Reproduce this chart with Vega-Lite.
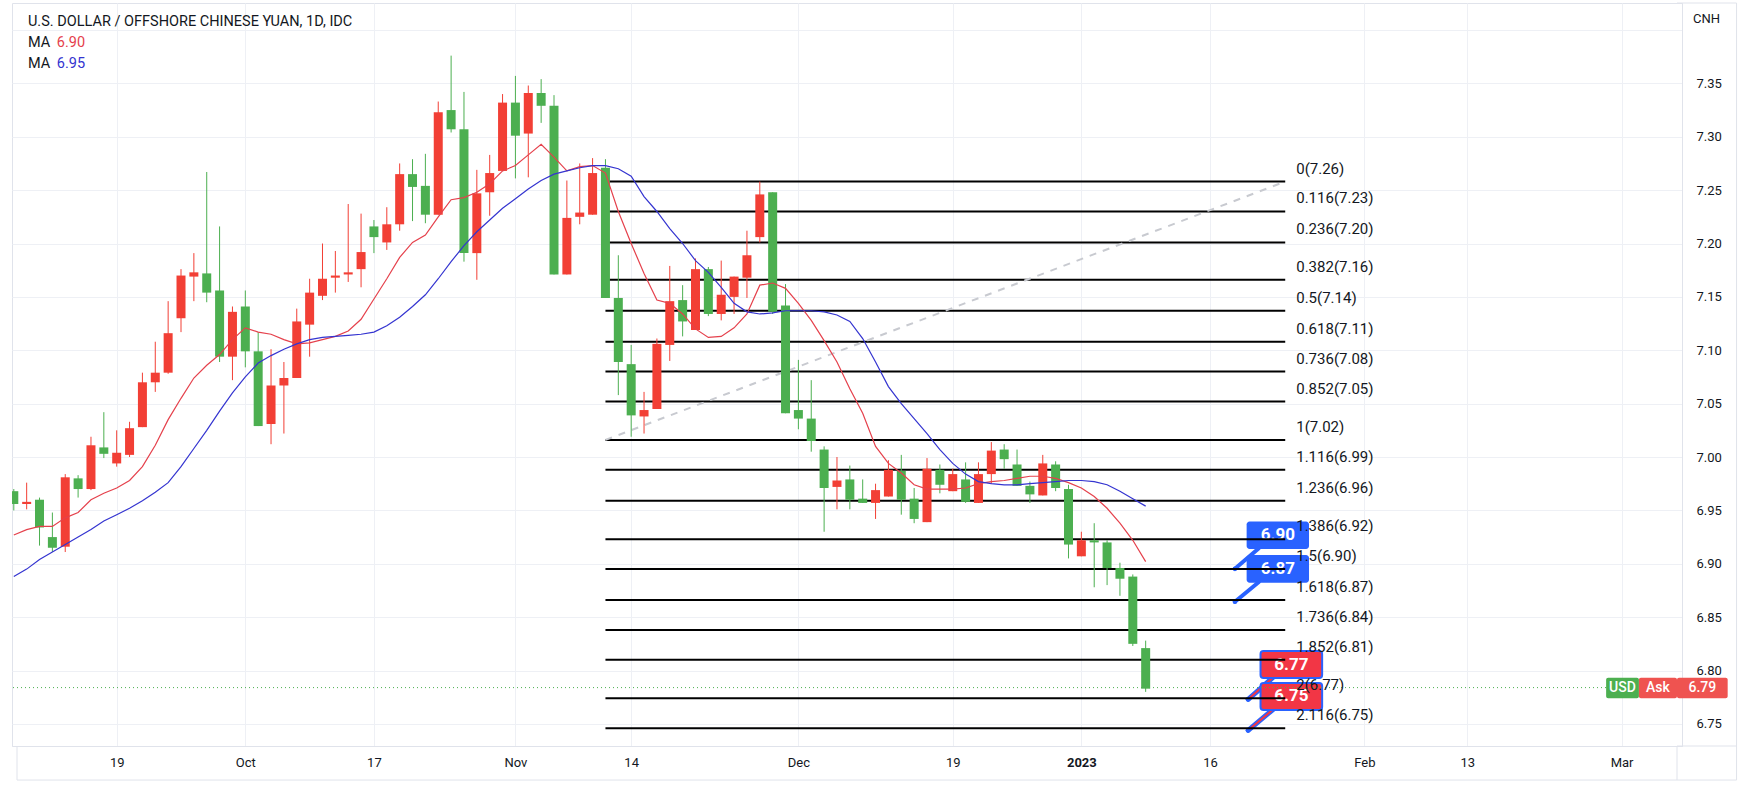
{
  "$schema": "https://vega.github.io/schema/vega-lite/v6.json",
  "width": 1670,
  "height": 743,
  "autosize": {"type": "none"},
  "padding": {"left": 12, "top": 3, "right": 76, "bottom": 40},
  "background": "#ffffff",
  "config": {
    "font": "Roboto",
    "view": {"stroke": "#e0e3eb", "strokeWidth": 1}
  },
  "datasets": {
    "candles": [
      {"i":-8,"o":6.968,"h":6.970,"l":6.950,"c":6.956},
      {"i":-7,"o":6.956,"h":6.976,"l":6.951,"c":6.958},
      {"i":-6,"o":6.960,"h":6.962,"l":6.917,"c":6.934},
      {"i":-5,"o":6.925,"h":6.948,"l":6.911,"c":6.915},
      {"i":-4,"o":6.916,"h":6.984,"l":6.911,"c":6.981},
      {"i":-3,"o":6.980,"h":6.983,"l":6.962,"c":6.970},
      {"i":-2,"o":6.970,"h":7.019,"l":6.969,"c":7.011},
      {"i":-1,"o":7.009,"h":7.042,"l":6.999,"c":7.003},
      {"i":0,"o":6.994,"h":7.025,"l":6.991,"c":7.004},
      {"i":1,"o":7.002,"h":7.033,"l":7.000,"c":7.027},
      {"i":2,"o":7.028,"h":7.079,"l":7.028,"c":7.070},
      {"i":3,"o":7.070,"h":7.108,"l":7.061,"c":7.079},
      {"i":4,"o":7.079,"h":7.146,"l":7.078,"c":7.116},
      {"i":5,"o":7.130,"h":7.176,"l":7.117,"c":7.170},
      {"i":6,"o":7.169,"h":7.191,"l":7.146,"c":7.173},
      {"i":7,"o":7.172,"h":7.267,"l":7.145,"c":7.154},
      {"i":8,"o":7.156,"h":7.216,"l":7.089,"c":7.094},
      {"i":9,"o":7.094,"h":7.141,"l":7.072,"c":7.136},
      {"i":10,"o":7.141,"h":7.156,"l":7.084,"c":7.099},
      {"i":11,"o":7.099,"h":7.117,"l":7.029,"c":7.029},
      {"i":12,"o":7.031,"h":7.101,"l":7.012,"c":7.067},
      {"i":13,"o":7.067,"h":7.089,"l":7.022,"c":7.074},
      {"i":14,"o":7.074,"h":7.139,"l":7.074,"c":7.127},
      {"i":15,"o":7.124,"h":7.167,"l":7.094,"c":7.154},
      {"i":16,"o":7.151,"h":7.200,"l":7.147,"c":7.167},
      {"i":17,"o":7.168,"h":7.193,"l":7.154,"c":7.170},
      {"i":18,"o":7.171,"h":7.237,"l":7.164,"c":7.173},
      {"i":19,"o":7.176,"h":7.228,"l":7.159,"c":7.192},
      {"i":20,"o":7.216,"h":7.222,"l":7.191,"c":7.206},
      {"i":21,"o":7.201,"h":7.234,"l":7.194,"c":7.218},
      {"i":22,"o":7.218,"h":7.275,"l":7.212,"c":7.265},
      {"i":23,"o":7.265,"h":7.279,"l":7.221,"c":7.253},
      {"i":24,"o":7.254,"h":7.284,"l":7.219,"c":7.227},
      {"i":25,"o":7.227,"h":7.333,"l":7.227,"c":7.323},
      {"i":26,"o":7.325,"h":7.376,"l":7.304,"c":7.307},
      {"i":27,"o":7.307,"h":7.342,"l":7.183,"c":7.191},
      {"i":28,"o":7.191,"h":7.269,"l":7.166,"c":7.247},
      {"i":29,"o":7.248,"h":7.283,"l":7.226,"c":7.266},
      {"i":30,"o":7.268,"h":7.340,"l":7.268,"c":7.332},
      {"i":31,"o":7.332,"h":7.357,"l":7.261,"c":7.301},
      {"i":32,"o":7.303,"h":7.348,"l":7.262,"c":7.341},
      {"i":33,"o":7.341,"h":7.354,"l":7.313,"c":7.329},
      {"i":34,"o":7.329,"h":7.339,"l":7.171,"c":7.171},
      {"i":35,"o":7.171,"h":7.259,"l":7.171,"c":7.224},
      {"i":36,"o":7.225,"h":7.275,"l":7.218,"c":7.229},
      {"i":37,"o":7.227,"h":7.280,"l":7.227,"c":7.266},
      {"i":38,"o":7.271,"h":7.279,"l":7.149,"c":7.149},
      {"i":39,"o":7.149,"h":7.189,"l":7.058,"c":7.089},
      {"i":40,"o":7.087,"h":7.105,"l":7.019,"c":7.039},
      {"i":41,"o":7.038,"h":7.061,"l":7.022,"c":7.044},
      {"i":42,"o":7.045,"h":7.111,"l":7.045,"c":7.106},
      {"i":43,"o":7.105,"h":7.179,"l":7.090,"c":7.146},
      {"i":44,"o":7.147,"h":7.161,"l":7.113,"c":7.127},
      {"i":45,"o":7.119,"h":7.186,"l":7.119,"c":7.176},
      {"i":46,"o":7.176,"h":7.178,"l":7.132,"c":7.134},
      {"i":47,"o":7.134,"h":7.184,"l":7.128,"c":7.152},
      {"i":48,"o":7.150,"h":7.169,"l":7.134,"c":7.169},
      {"i":49,"o":7.168,"h":7.212,"l":7.149,"c":7.189},
      {"i":50,"o":7.206,"h":7.258,"l":7.201,"c":7.246},
      {"i":51,"o":7.248,"h":7.248,"l":7.134,"c":7.136},
      {"i":52,"o":7.142,"h":7.162,"l":7.041,"c":7.041},
      {"i":53,"o":7.044,"h":7.091,"l":7.026,"c":7.036},
      {"i":54,"o":7.036,"h":7.072,"l":7.005,"c":7.015},
      {"i":55,"o":7.007,"h":7.010,"l":6.930,"c":6.971},
      {"i":56,"o":6.972,"h":7.000,"l":6.951,"c":6.978},
      {"i":57,"o":6.979,"h":6.992,"l":6.951,"c":6.960},
      {"i":58,"o":6.961,"h":6.979,"l":6.957,"c":6.957},
      {"i":59,"o":6.957,"h":6.975,"l":6.942,"c":6.969},
      {"i":60,"o":6.963,"h":6.997,"l":6.963,"c":6.988},
      {"i":61,"o":6.987,"h":7.002,"l":6.946,"c":6.960},
      {"i":62,"o":6.961,"h":6.971,"l":6.938,"c":6.942},
      {"i":63,"o":6.939,"h":6.999,"l":6.939,"c":6.989},
      {"i":64,"o":6.988,"h":6.993,"l":6.966,"c":6.974},
      {"i":65,"o":6.968,"h":6.989,"l":6.968,"c":6.984},
      {"i":66,"o":6.979,"h":6.995,"l":6.957,"c":6.958},
      {"i":67,"o":6.957,"h":6.995,"l":6.957,"c":6.984},
      {"i":68,"o":6.984,"h":7.014,"l":6.975,"c":7.006},
      {"i":69,"o":7.007,"h":7.012,"l":6.989,"c":6.998},
      {"i":70,"o":6.993,"h":7.007,"l":6.973,"c":6.973},
      {"i":71,"o":6.973,"h":6.977,"l":6.957,"c":6.965},
      {"i":72,"o":6.964,"h":7.002,"l":6.964,"c":6.994},
      {"i":73,"o":6.993,"h":6.996,"l":6.968,"c":6.971},
      {"i":74,"o":6.970,"h":6.974,"l":6.905,"c":6.918},
      {"i":75,"o":6.907,"h":6.930,"l":6.907,"c":6.922},
      {"i":76,"o":6.922,"h":6.938,"l":6.878,"c":6.920},
      {"i":77,"o":6.920,"h":6.922,"l":6.880,"c":6.896},
      {"i":78,"o":6.896,"h":6.901,"l":6.870,"c":6.886},
      {"i":79,"o":6.888,"h":6.890,"l":6.823,"c":6.825},
      {"i":80,"o":6.821,"h":6.828,"l":6.780,"c":6.783}
    ],
    "ma": [
      {"i":-8,"r":6.927,"b":6.888},{"i":-7,"r":6.932,"b":6.895},{"i":-6,"r":6.935,"b":6.904},{"i":-5,"r":6.935,"b":6.911},
      {"i":-4,"r":6.943,"b":6.918},{"i":-3,"r":6.948,"b":6.925},{"i":-2,"r":6.960,"b":6.932},{"i":-1,"r":6.966,"b":6.940},
      {"i":0,"r":6.971,"b":6.946},{"i":1,"r":6.978,"b":6.952},{"i":2,"r":6.991,"b":6.959},{"i":3,"r":7.011,"b":6.967},
      {"i":4,"r":7.035,"b":6.976},{"i":5,"r":7.055,"b":6.991},{"i":6,"r":7.074,"b":7.008},{"i":7,"r":7.086,"b":7.025},
      {"i":8,"r":7.096,"b":7.043},{"i":9,"r":7.110,"b":7.060},{"i":10,"r":7.121,"b":7.075},{"i":11,"r":7.117,"b":7.088},
      {"i":12,"r":7.115,"b":7.095},{"i":13,"r":7.110,"b":7.101},{"i":14,"r":7.106,"b":7.106},{"i":15,"r":7.107,"b":7.110},
      {"i":16,"r":7.110,"b":7.112},{"i":17,"r":7.113,"b":7.113},{"i":18,"r":7.118,"b":7.114},{"i":19,"r":7.129,"b":7.115},
      {"i":20,"r":7.148,"b":7.117},{"i":21,"r":7.167,"b":7.123},{"i":22,"r":7.187,"b":7.131},{"i":23,"r":7.201,"b":7.141},
      {"i":24,"r":7.208,"b":7.152},{"i":25,"r":7.225,"b":7.167},{"i":26,"r":7.241,"b":7.183},{"i":27,"r":7.243,"b":7.198},
      {"i":28,"r":7.248,"b":7.211},{"i":29,"r":7.256,"b":7.222},{"i":30,"r":7.268,"b":7.233},{"i":31,"r":7.273,"b":7.242},
      {"i":32,"r":7.283,"b":7.251},{"i":33,"r":7.293,"b":7.259},{"i":34,"r":7.281,"b":7.265},{"i":35,"r":7.268,"b":7.268},
      {"i":36,"r":7.272,"b":7.271},{"i":37,"r":7.273,"b":7.273},{"i":38,"r":7.266,"b":7.273},{"i":39,"r":7.230,"b":7.270},
      {"i":40,"r":7.200,"b":7.263},{"i":41,"r":7.172,"b":7.244},{"i":42,"r":7.147,"b":7.230},{"i":43,"r":7.144,"b":7.214},
      {"i":44,"r":7.134,"b":7.200},{"i":45,"r":7.120,"b":7.184},{"i":46,"r":7.112,"b":7.173},{"i":47,"r":7.113,"b":7.159},
      {"i":48,"r":7.121,"b":7.144},{"i":49,"r":7.134,"b":7.136},{"i":50,"r":7.161,"b":7.134},{"i":51,"r":7.163,"b":7.135},
      {"i":52,"r":7.158,"b":7.137},{"i":53,"r":7.144,"b":7.137},{"i":54,"r":7.128,"b":7.137},{"i":55,"r":7.109,"b":7.136},
      {"i":56,"r":7.089,"b":7.133},{"i":57,"r":7.064,"b":7.127},{"i":58,"r":7.041,"b":7.111},{"i":59,"r":7.010,"b":7.089},
      {"i":60,"r":6.994,"b":7.066},{"i":61,"r":6.985,"b":7.050},{"i":62,"r":6.974,"b":7.036},{"i":63,"r":6.970,"b":7.022},
      {"i":64,"r":6.970,"b":7.007},{"i":65,"r":6.970,"b":6.994},{"i":66,"r":6.971,"b":6.984},{"i":67,"r":6.975,"b":6.977},
      {"i":68,"r":6.977,"b":6.975},{"i":69,"r":6.978,"b":6.974},{"i":70,"r":6.980,"b":6.974},{"i":71,"r":6.982,"b":6.975},
      {"i":72,"r":6.982,"b":6.976},{"i":73,"r":6.980,"b":6.977},{"i":74,"r":6.976,"b":6.978},{"i":75,"r":6.971,"b":6.978},
      {"i":76,"r":6.963,"b":6.977},{"i":77,"r":6.952,"b":6.974},{"i":78,"r":6.938,"b":6.968},{"i":79,"r":6.922,"b":6.961},
      {"i":80,"r":6.902,"b":6.954}
    ],
    "fib": [
      {"t":"0(7.26)","p":7.258,"i0":38,"i1":90.85},
      {"t":"0.116(7.23)","p":7.230,"i0":38,"i1":90.85},
      {"t":"0.236(7.20)","p":7.201,"i0":38,"i1":90.85},
      {"t":"0.382(7.16)","p":7.166,"i0":38,"i1":90.85},
      {"t":"0.5(7.14)","p":7.137,"i0":38,"i1":90.85},
      {"t":"0.618(7.11)","p":7.108,"i0":38,"i1":90.85},
      {"t":"0.736(7.08)","p":7.080,"i0":38,"i1":90.85},
      {"t":"0.852(7.05)","p":7.052,"i0":38,"i1":90.85},
      {"t":"1(7.02)","p":7.016,"i0":38,"i1":90.85},
      {"t":"1.116(6.99)","p":6.988,"i0":38,"i1":90.85},
      {"t":"1.236(6.96)","p":6.959,"i0":38,"i1":90.85},
      {"t":"1.386(6.92)","p":6.923,"i0":38,"i1":90.85},
      {"t":"1.5(6.90)","p":6.895,"i0":38,"i1":90.85},
      {"t":"1.618(6.87)","p":6.866,"i0":38,"i1":90.85},
      {"t":"1.736(6.84)","p":6.838,"i0":38,"i1":90.85},
      {"t":"1.852(6.81)","p":6.810,"i0":38,"i1":90.85},
      {"t":"2(6.77)","p":6.774,"i0":38,"i1":90.85},
      {"t":"2.116(6.75)","p":6.746,"i0":38,"i1":90.85}
    ],
    "trend": [{"i":38,"p":7.016},{"i":90.85,"p":7.258}],
    "blueNotes": [
      {"t":"6.90","i0":87.85,"i1":92.7,"p0":6.9138,"p1":6.9397,"ti":90.28,"tp":6.9268,"wi":88.8,"wp":6.9145,"di":86.94,"dp":6.8953},
      {"t":"6.87","i0":87.85,"i1":92.7,"p0":6.8822,"p1":6.9082,"ti":90.28,"tp":6.8952,"wi":88.8,"wp":6.8830,"di":86.94,"dp":6.8645}
    ],
    "redNotes": [
      {"t":"6.77","i0":88.93,"i1":93.72,"p0":6.7930,"p1":6.8183,"ti":91.33,"tp":6.8056,"wi":89.9,"wp":6.7935,"di":87.97,"dp":6.773},
      {"t":"6.75","i0":88.93,"i1":93.72,"p0":6.7630,"p1":6.7883,"ti":91.33,"tp":6.7757,"wi":89.9,"wp":6.7635,"di":87.97,"dp":6.744}
    ],
    "header": [
      {"t":"U.S. DOLLAR / OFFSHORE CHINESE YUAN, 1D, IDC","i":-6.9,"p":7.4075},
      {"t":"MA","i":-6.9,"p":7.3878},
      {"t":"MA","i":-6.9,"p":7.3682}
    ],
    "tags": [
      {"t":"USD","k":"g","i0":115.8,"i1":118.35,"ti":117.07},
      {"t":"Ask","k":"r","i0":118.35,"i1":121.31,"ti":119.83},
      {"t":"6.79","k":"r","i0":121.31,"i1":125.25,"ti":123.28}
    ],
    "frame": [
      {"x0":121.31,"x1":125.94,"y0":7.4253,"y1":7.4253},
      {"x0":125.94,"x1":125.94,"y0":6.6974,"y1":7.4253},
      {"x0":-7.751,"x1":125.94,"y0":6.6974,"y1":6.6974},
      {"x0":-7.751,"x1":-7.751,"y0":6.6974,"y1":6.7293},
      {"x0":121.31,"x1":121.31,"y0":6.6974,"y1":6.7293},
      {"x0":121.31,"x1":125.94,"y0":6.7293,"y1":6.7293}
    ]
  },
  "layer": [
    {
      "data": {"name": "frame"},
      "mark": {"type": "rule", "strokeWidth": 1, "color": "#e0e3eb"},
      "encoding": {
        "x": {"field": "x0", "type": "quantitative", "scale": {"domain": [-7.751, 121.31], "nice": false, "zero": false},
          "axis": {"values": [0,10,20,31,40,53,65,75,85,97,105,117],
            "labelExpr": "datum.value==0?'19':datum.value==10?'Oct':datum.value==20?'17':datum.value==31?'Nov':datum.value==40?'14':datum.value==53?'Dec':datum.value==65?'19':datum.value==75?'2023':datum.value==85?'16':datum.value==97?'Feb':datum.value==105?'13':'Mar'",
            "title": null, "ticks": false, "domain": true, "domainColor": "#e0e3eb", "grid": true, "gridColor": "#eef0f5", "labelColor": "#131722",
            "labelFontSize": 13, "labelPadding": 10, "labelFlush": false, "labelOverlap": false,
            "labelFontWeight": {"condition": {"test": "datum.value === 75", "value": "bold"}, "value": "normal"}}},
        "x2": {"field": "x1"},
        "y": {"field": "y0", "type": "quantitative", "scale": {"domain": [6.7293, 7.4253], "nice": false, "zero": false},
          "axis": {"orient": "right", "values": [6.75,6.8,6.85,6.9,6.95,7.0,7.05,7.1,7.15,7.2,7.25,7.3,7.35,7.4],
            "labelExpr": "datum.value > 7.39 ? '' : format(datum.value, '.2f')",
            "title": null, "ticks": false, "domain": true, "domainColor": "#e0e3eb", "grid": true, "gridColor": "#eef0f5", "labelColor": "#131722",
            "labelFontSize": 13, "labelAlign": "left", "labelPadding": 14, "labelFlush": false, "labelOverlap": false}},
        "y2": {"field": "y1"}
      }
    },
    {
      "data": {"name": "blueNotes"},
      "mark": {"type": "rule", "strokeWidth": 4, "color": "#2962ff", "strokeCap": "round"},
      "encoding": {
        "x": {"field": "wi", "type": "quantitative", "scale": {"domain": [-7.751, 121.31], "nice": false, "zero": false}},
        "x2": {"field": "di"},
        "y": {"field": "wp", "type": "quantitative", "scale": {"domain": [6.7293, 7.4253], "nice": false, "zero": false}},
        "y2": {"field": "dp"}
      }
    },
    {
      "data": {"name": "blueNotes"},
      "mark": {"type": "rect", "color": "#2962ff", "cornerRadius": 3},
      "encoding": {
        "x": {"field": "i0", "type": "quantitative", "scale": {"domain": [-7.751, 121.31], "nice": false, "zero": false}},
        "x2": {"field": "i1"},
        "y": {"field": "p0", "type": "quantitative", "scale": {"domain": [6.7293, 7.4253], "nice": false, "zero": false}},
        "y2": {"field": "p1"}
      }
    },
    {
      "data": {"name": "redNotes"},
      "mark": {"type": "rule", "strokeWidth": 5, "color": "#2962ff", "strokeCap": "round"},
      "encoding": {
        "x": {"field": "wi", "type": "quantitative", "scale": {"domain": [-7.751, 121.31], "nice": false, "zero": false}},
        "x2": {"field": "di"},
        "y": {"field": "wp", "type": "quantitative", "scale": {"domain": [6.7293, 7.4253], "nice": false, "zero": false}},
        "y2": {"field": "dp"}
      }
    },
    {
      "data": {"name": "redNotes"},
      "mark": {"type": "rule", "strokeWidth": 2, "color": "#f23645"},
      "encoding": {
        "x": {"field": "wi", "type": "quantitative", "scale": {"domain": [-7.751, 121.31], "nice": false, "zero": false}},
        "x2": {"field": "di"},
        "y": {"field": "wp", "type": "quantitative", "scale": {"domain": [6.7293, 7.4253], "nice": false, "zero": false}},
        "y2": {"field": "dp"}
      }
    },
    {
      "data": {"name": "redNotes"},
      "mark": {"type": "rect", "color": "#f23645", "stroke": "#2962ff", "strokeWidth": 2, "cornerRadius": 3},
      "encoding": {
        "x": {"field": "i0", "type": "quantitative", "scale": {"domain": [-7.751, 121.31], "nice": false, "zero": false}},
        "x2": {"field": "i1"},
        "y": {"field": "p0", "type": "quantitative", "scale": {"domain": [6.7293, 7.4253], "nice": false, "zero": false}},
        "y2": {"field": "p1"}
      }
    },
    {
      "data": {"name": "blueNotes"},
      "mark": {"type": "text", "color": "#ffffff", "fontSize": 17, "fontWeight": "bold", "align": "center", "baseline": "middle"},
      "encoding": {
        "x": {"field": "ti", "type": "quantitative", "scale": {"domain": [-7.751, 121.31], "nice": false, "zero": false}},
        "y": {"field": "tp", "type": "quantitative", "scale": {"domain": [6.7293, 7.4253], "nice": false, "zero": false}},
        "text": {"field": "t"}
      }
    },
    {
      "data": {"name": "redNotes"},
      "mark": {"type": "text", "color": "#ffffff", "fontSize": 17, "fontWeight": "bold", "align": "center", "baseline": "middle"},
      "encoding": {
        "x": {"field": "ti", "type": "quantitative", "scale": {"domain": [-7.751, 121.31], "nice": false, "zero": false}},
        "y": {"field": "tp", "type": "quantitative", "scale": {"domain": [6.7293, 7.4253], "nice": false, "zero": false}},
        "text": {"field": "t"}
      }
    },
    {
      "data": {"name": "blueNotes"},
      "mark": {"type": "point", "filled": true, "color": "#2962ff", "size": 22, "opacity": 1},
      "encoding": {
        "x": {"field": "di", "type": "quantitative", "scale": {"domain": [-7.751, 121.31], "nice": false, "zero": false}},
        "y": {"field": "dp", "type": "quantitative", "scale": {"domain": [6.7293, 7.4253], "nice": false, "zero": false}}
      }
    },
    {
      "data": {"name": "redNotes"},
      "mark": {"type": "point", "filled": true, "color": "#2962ff", "size": 22, "opacity": 1},
      "encoding": {
        "x": {"field": "di", "type": "quantitative", "scale": {"domain": [-7.751, 121.31], "nice": false, "zero": false}},
        "y": {"field": "dp", "type": "quantitative", "scale": {"domain": [6.7293, 7.4253], "nice": false, "zero": false}}
      }
    },
    {
      "data": {"values": [{"p": 6.784}]},
      "mark": {"type": "rule", "color": "#4caf50", "strokeWidth": 1, "strokeDash": [1, 3]},
      "encoding": {
        "y": {"field": "p", "type": "quantitative", "scale": {"domain": [6.7293, 7.4253], "nice": false, "zero": false}}
      }
    },
    {
      "data": {"name": "fib"},
      "mark": {"type": "rule", "color": "#000000", "strokeWidth": 2},
      "encoding": {
        "x": {"field": "i0", "type": "quantitative", "scale": {"domain": [-7.751, 121.31], "nice": false, "zero": false}},
        "x2": {"field": "i1"},
        "y": {"field": "p", "type": "quantitative", "scale": {"domain": [6.7293, 7.4253], "nice": false, "zero": false}}
      }
    },
    {
      "data": {"name": "fib"},
      "mark": {"type": "text", "color": "#131722", "fontSize": 15, "align": "left", "baseline": "middle", "dx": 11, "dy": -13},
      "encoding": {
        "x": {"field": "i1", "type": "quantitative", "scale": {"domain": [-7.751, 121.31], "nice": false, "zero": false}},
        "y": {"field": "p", "type": "quantitative", "scale": {"domain": [6.7293, 7.4253], "nice": false, "zero": false}},
        "text": {"field": "t"}
      }
    },
    {
      "data": {"name": "trend"},
      "mark": {"type": "line", "color": "#c8cad0", "strokeWidth": 2, "strokeDash": [7, 7]},
      "encoding": {
        "x": {"field": "i", "type": "quantitative", "scale": {"domain": [-7.751, 121.31], "nice": false, "zero": false}},
        "y": {"field": "p", "type": "quantitative", "scale": {"domain": [6.7293, 7.4253], "nice": false, "zero": false}}
      }
    },
    {
      "data": {"name": "candles"},
      "mark": {"type": "rule", "strokeWidth": 1, "clip": true},
      "encoding": {
        "x": {"field": "i", "type": "quantitative", "scale": {"domain": [-7.751, 121.31], "nice": false, "zero": false}},
        "y": {"field": "l", "type": "quantitative", "scale": {"domain": [6.7293, 7.4253], "nice": false, "zero": false}},
        "y2": {"field": "h"},
        "color": {"condition": {"test": "datum.c > datum.o", "value": "#f23f35"}, "value": "#4caf50"}
      }
    },
    {
      "data": {"name": "candles"},
      "mark": {"type": "bar", "width": 9, "clip": true},
      "encoding": {
        "x": {"field": "i", "type": "quantitative", "scale": {"domain": [-7.751, 121.31], "nice": false, "zero": false}},
        "y": {"field": "o", "type": "quantitative", "scale": {"domain": [6.7293, 7.4253], "nice": false, "zero": false}},
        "y2": {"field": "c"},
        "color": {"condition": {"test": "datum.c > datum.o", "value": "#f23f35"}, "value": "#4caf50"}
      }
    },
    {
      "data": {"name": "ma"},
      "mark": {"type": "line", "color": "#e5414c", "strokeWidth": 1.2, "clip": true},
      "encoding": {
        "x": {"field": "i", "type": "quantitative", "scale": {"domain": [-7.751, 121.31], "nice": false, "zero": false}},
        "y": {"field": "r", "type": "quantitative", "scale": {"domain": [6.7293, 7.4253], "nice": false, "zero": false}}
      }
    },
    {
      "data": {"name": "ma"},
      "mark": {"type": "line", "color": "#3434d0", "strokeWidth": 1.2, "clip": true},
      "encoding": {
        "x": {"field": "i", "type": "quantitative", "scale": {"domain": [-7.751, 121.31], "nice": false, "zero": false}},
        "y": {"field": "b", "type": "quantitative", "scale": {"domain": [6.7293, 7.4253], "nice": false, "zero": false}}
      }
    },
    {
      "data": {"name": "header"},
      "mark": {"type": "text", "color": "#131722", "fontSize": 14.5, "align": "left", "baseline": "middle"},
      "encoding": {
        "x": {"field": "i", "type": "quantitative", "scale": {"domain": [-7.751, 121.31], "nice": false, "zero": false}},
        "y": {"field": "p", "type": "quantitative", "scale": {"domain": [6.7293, 7.4253], "nice": false, "zero": false}},
        "text": {"field": "t"}
      }
    },
    {
      "data": {"values": [{"t": "6.90", "i": -4.66, "p": 7.3878}]},
      "mark": {"type": "text", "color": "#e5414c", "fontSize": 14.5, "align": "left", "baseline": "middle"},
      "encoding": {
        "x": {"field": "i", "type": "quantitative", "scale": {"domain": [-7.751, 121.31], "nice": false, "zero": false}},
        "y": {"field": "p", "type": "quantitative", "scale": {"domain": [6.7293, 7.4253], "nice": false, "zero": false}},
        "text": {"field": "t"}
      }
    },
    {
      "data": {"values": [{"t": "6.95", "i": -4.66, "p": 7.3682}]},
      "mark": {"type": "text", "color": "#3434d0", "fontSize": 14.5, "align": "left", "baseline": "middle"},
      "encoding": {
        "x": {"field": "i", "type": "quantitative", "scale": {"domain": [-7.751, 121.31], "nice": false, "zero": false}},
        "y": {"field": "p", "type": "quantitative", "scale": {"domain": [6.7293, 7.4253], "nice": false, "zero": false}},
        "text": {"field": "t"}
      }
    },
    {
      "data": {"values": [{"t": "CNH", "i": 123.6, "p": 7.4103}]},
      "mark": {"type": "text", "color": "#131722", "fontSize": 13, "align": "center", "baseline": "middle"},
      "encoding": {
        "x": {"field": "i", "type": "quantitative", "scale": {"domain": [-7.751, 121.31], "nice": false, "zero": false}},
        "y": {"field": "p", "type": "quantitative", "scale": {"domain": [6.7293, 7.4253], "nice": false, "zero": false}},
        "text": {"field": "t"}
      }
    },
    {
      "data": {"name": "tags"},
      "mark": {"type": "rect", "cornerRadius": 2},
      "encoding": {
        "x": {"field": "i0", "type": "quantitative", "scale": {"domain": [-7.751, 121.31], "nice": false, "zero": false}},
        "x2": {"field": "i1"},
        "y": {"datum": 6.774, "type": "quantitative", "scale": {"domain": [6.7293, 7.4253], "nice": false, "zero": false}},
        "y2": {"datum": 6.7933},
        "color": {"condition": {"test": "datum.k === 'g'", "value": "#4caf50"}, "value": "#ef5350"}
      }
    },
    {
      "data": {"name": "tags"},
      "mark": {"type": "text", "color": "#ffffff", "fontSize": 14, "align": "center", "baseline": "middle", "fontWeight": 500},
      "encoding": {
        "x": {"field": "ti", "type": "quantitative", "scale": {"domain": [-7.751, 121.31], "nice": false, "zero": false}},
        "y": {"datum": 6.7837, "type": "quantitative", "scale": {"domain": [6.7293, 7.4253], "nice": false, "zero": false}},
        "text": {"field": "t"}
      }
    }
  ]
}
